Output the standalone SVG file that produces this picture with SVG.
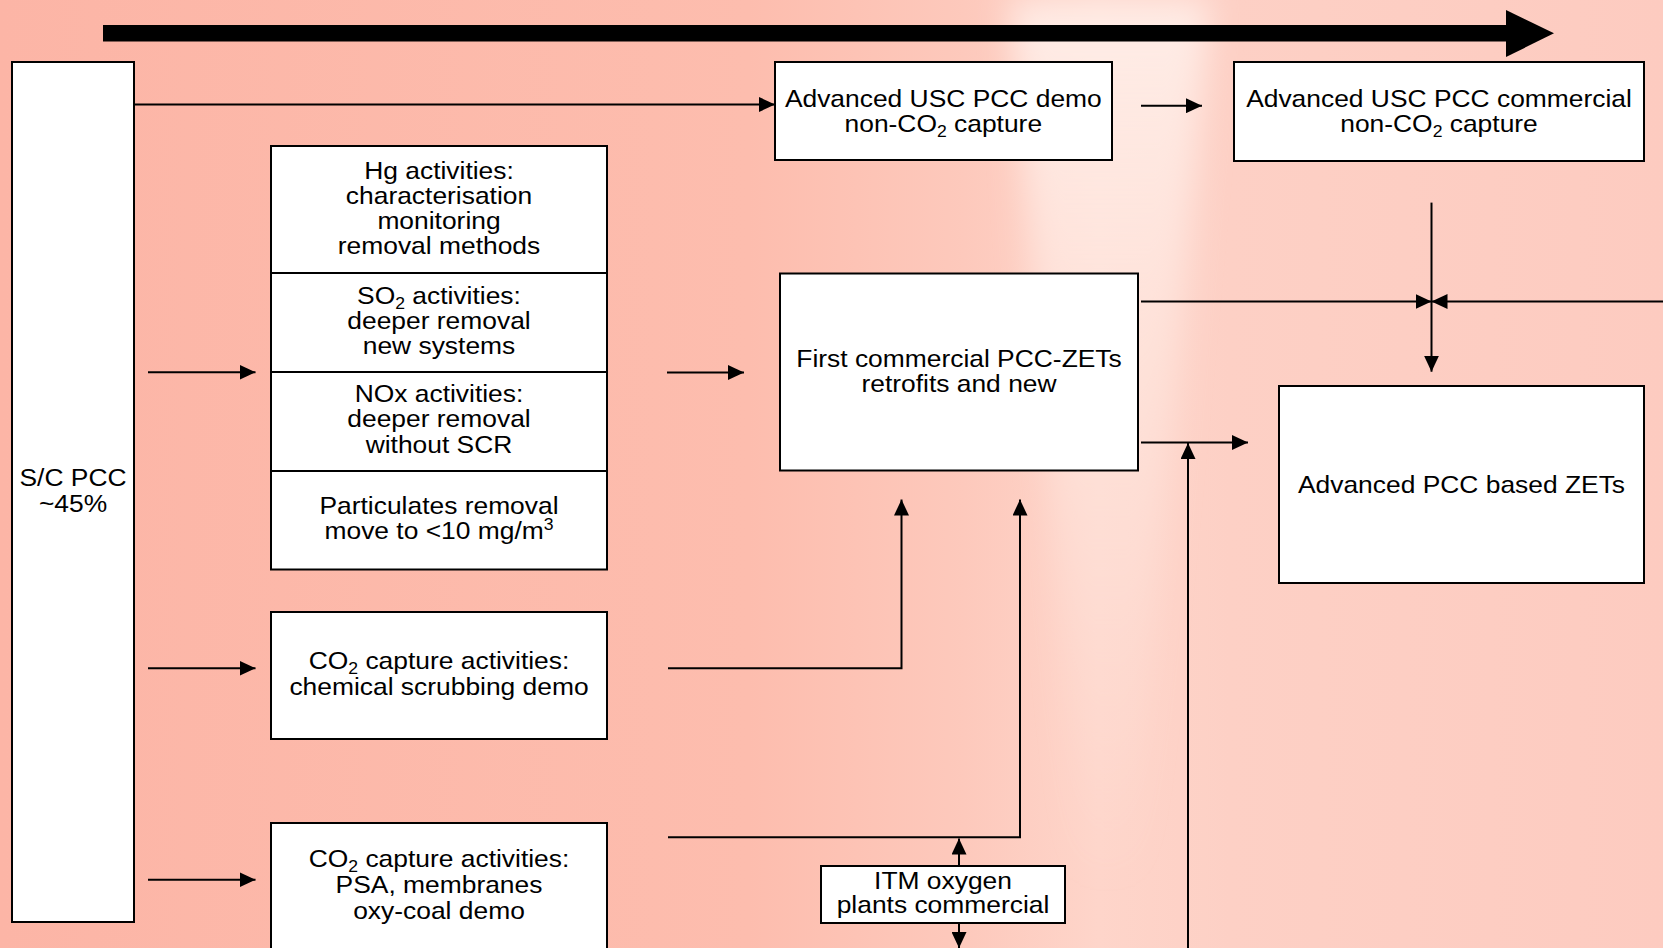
<svg xmlns="http://www.w3.org/2000/svg" width="1663" height="948" viewBox="0 0 1663 948">
<style>
.box{fill:#fff;stroke:#000;stroke-width:2}
.ln{fill:none;stroke:#000;stroke-width:2}
.arr{marker-end:url(#ah)}
.t{font-family:"Liberation Sans",Arial,Helvetica,sans-serif;font-size:24px;fill:#000;text-anchor:middle}
.sub{font-size:16px}
</style>
<defs>
<linearGradient id="bg" x1="0" y1="0" x2="1" y2="0">
<stop offset="0" stop-color="#fcb5a6"/>
<stop offset="0.45" stop-color="#fdbdae"/>
<stop offset="0.58" stop-color="#fdc9bc"/>
<stop offset="0.66" stop-color="#fed5ca"/>
<stop offset="0.74" stop-color="#fdd0c5"/>
<stop offset="1" stop-color="#fdcbc0"/>
</linearGradient>
<linearGradient id="band" x1="0" y1="0" x2="0" y2="1">
<stop offset="0" stop-color="#fff3ee" stop-opacity="0.8"/>
<stop offset="0.4" stop-color="#fff0ea" stop-opacity="0.5"/>
<stop offset="1" stop-color="#fff0ea" stop-opacity="0"/>
</linearGradient>
<filter id="blur" x="-50%" y="-10%" width="200%" height="120%"><feGaussianBlur stdDeviation="16"/></filter>
<marker id="ah" markerUnits="userSpaceOnUse" markerWidth="16" markerHeight="15" refX="16" refY="7.5" orient="auto">
<path d="M0,0 L16,7.5 L0,15 z" fill="#000"/>
</marker>
</defs>
<rect width="1663" height="948" fill="url(#bg)"/>
<path d="M1010,0 L1210,0 L1135,880 L1080,880 Z" fill="url(#band)" filter="url(#blur)"/>

<g id="timeline">
<rect x="103" y="25" width="1404" height="16.5" fill="#000"/>
<polygon points="1506,10 1554,33.3 1506,57" fill="#000"/>
</g>

<g id="connectors">
<path class="ln arr" d="M134,104.5 H775"/>
<path class="ln arr" d="M1141,105.7 H1202"/>
<path class="ln arr" d="M148,372.3 H255.5"/>
<path class="ln arr" d="M667,372.5 H744"/>
<path class="ln arr" d="M148,668.3 H255.5"/>
<path class="ln arr" d="M148,879.7 H255.5"/>
<path class="ln arr" d="M668,668.3 H901.5 V499.5"/>
<path class="ln arr" d="M668,837.3 H1020 V499.5"/>
<path class="ln arr" d="M959,865.7 V838.5"/>
<path class="ln arr" d="M959,922.7 V948"/>
<path class="ln arr" d="M1141,301.5 H1431.5"/>
<path class="ln arr" d="M1663,301.5 H1431.5"/>
<path class="ln arr" d="M1431.5,202.6 V371.7"/>
<path class="ln arr" d="M1141,442.5 H1248"/>
<path class="ln arr" d="M1188,948 V443"/>
</g>

<g id="sc-pcc">
<rect class="box" x="12" y="62" width="122" height="860"/>
<text class="t" transform="translate(73 0) scale(1.1 1)"><tspan x="0" y="485.7">S/C PCC</tspan><tspan x="0" y="512">~45%</tspan></text>
</g>

<g id="usc-demo">
<rect class="box" x="775" y="62" width="337" height="98"/>
<text class="t" transform="translate(943.3 0) scale(1.1 1)"><tspan x="0" y="106.7">Advanced USC PCC demo</tspan><tspan x="0" y="132.3">non-CO<tspan class="sub" dy="5">2</tspan><tspan dy="-5"> capture</tspan></tspan></text>
</g>

<g id="usc-commercial">
<rect class="box" x="1234" y="62" width="410" height="99"/>
<text class="t" transform="translate(1439 0) scale(1.1 1)"><tspan x="0" y="106.7">Advanced USC PCC commercial</tspan><tspan x="0" y="132.3">non-CO<tspan class="sub" dy="5">2</tspan><tspan dy="-5"> capture</tspan></tspan></text>
</g>

<g id="hg">
<rect class="box" x="271" y="146" width="336" height="127"/>
<text class="t" transform="translate(439 0) scale(1.1 1)"><tspan x="0" y="179">Hg activities:</tspan><tspan x="0" y="204">characterisation</tspan><tspan x="0" y="229">monitoring</tspan><tspan x="0" y="254">removal methods</tspan></text>
</g>

<g id="so2">
<rect class="box" x="271" y="273" width="336" height="99"/>
<text class="t" transform="translate(439 0) scale(1.1 1)"><tspan x="0" y="304">SO<tspan class="sub" dy="5">2</tspan><tspan dy="-5"> activities:</tspan></tspan><tspan x="0" y="329">deeper removal</tspan><tspan x="0" y="354">new systems</tspan></text>
</g>

<g id="nox">
<rect class="box" x="271" y="372" width="336" height="99"/>
<text class="t" transform="translate(439 0) scale(1.1 1)"><tspan x="0" y="402">NOx activities:</tspan><tspan x="0" y="427.3">deeper removal</tspan><tspan x="0" y="453">without SCR</tspan></text>
</g>

<g id="particulates">
<rect class="box" x="271" y="471" width="336" height="98.5"/>
<text class="t" transform="translate(439 0) scale(1.1 1)"><tspan x="0" y="514">Particulates removal</tspan><tspan x="0" y="539.3">move to &lt;10 mg/m<tspan class="sub" dy="-9">3</tspan></tspan></text>
</g>

<g id="co2-chemical">
<rect class="box" x="271" y="612" width="336" height="127"/>
<text class="t" transform="translate(439 0) scale(1.1 1)"><tspan x="0" y="669.3">CO<tspan class="sub" dy="5">2</tspan><tspan dy="-5"> capture activities:</tspan></tspan><tspan x="0" y="695">chemical scrubbing demo</tspan></text>
</g>

<g id="co2-psa">
<rect class="box" x="271" y="823" width="336" height="140"/>
<text class="t" transform="translate(439 0) scale(1.1 1)"><tspan x="0" y="867.3">CO<tspan class="sub" dy="5">2</tspan><tspan dy="-5"> capture activities:</tspan></tspan><tspan x="0" y="893.3">PSA, membranes</tspan><tspan x="0" y="919">oxy-coal demo</tspan></text>
</g>

<g id="first-commercial">
<rect class="box" x="780" y="273.5" width="358" height="197"/>
<text class="t" transform="translate(959 0) scale(1.1 1)"><tspan x="0" y="366.7">First commercial PCC-ZETs</tspan><tspan x="0" y="392.3">retrofits and new</tspan></text>
</g>

<g id="advanced-pcc">
<rect class="box" x="1279" y="386" width="365" height="197"/>
<text class="t" transform="translate(1461.5 0) scale(1.1 1)"><tspan x="0" y="492.7">Advanced PCC based ZETs</tspan></text>
</g>

<g id="itm">
<rect class="box" x="821" y="866" width="244" height="57"/>
<text class="t" transform="translate(943 0) scale(1.1 1)"><tspan x="0" y="889">ITM oxygen</tspan><tspan x="0" y="913">plants commercial</tspan></text>
</g>
</svg>
